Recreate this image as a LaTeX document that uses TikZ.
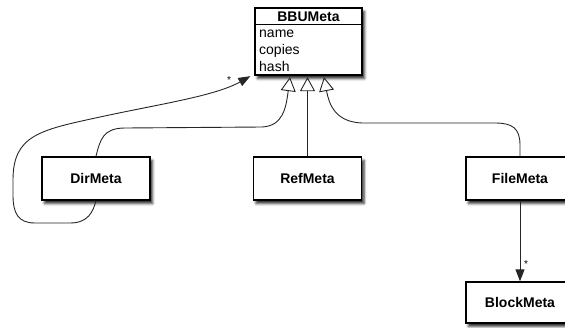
\documentclass[tikz,border=0pt]{standalone}
\usepackage{fontspec}
\setmainfont{Liberation Sans}
\usetikzlibrary{arrows.meta,shadows.blur}
\tikzset{
  cls/.style={draw=black, line width=1.3pt, fill=white, minimum width=108pt,
    minimum height=43pt, inner sep=0pt, font=\fontsize{14}{16}\selectfont\bfseries,
    blur shadow={shadow xshift=2.5pt, shadow yshift=-3.5pt, shadow blur radius=2.5pt, shadow opacity=85}},
  attr/.style={anchor=base west, inner sep=0pt, font=\fontsize{14}{16}\selectfont},
  conn/.style={draw=black!85, line width=0.9pt},
  inherit/.style={conn, -{Triangle[open, width=15pt, length=14pt, line width=0.9pt]}},
  assoc/.style={conn, -{Triangle[width=9pt, length=12pt]}},
  mult/.style={inner sep=0pt, font=\fontsize{10}{10}\selectfont},
}
\begin{document}
\begin{tikzpicture}[x={(1pt,0)}, y={(0,-1pt)}]
\useasboundingbox (0,0) rectangle (565,327);
\clip (0,0) rectangle (565,327);

% base class with its attribute compartment
\node[cls, minimum width=107pt, minimum height=67pt] (bbu) at (308.5,41.5) {};
\path (bbu.north west) ++(0,17) coordinate (sepL);
\draw[line width=1pt] (sepL) -- (sepL -| bbu.east);
\node[inner sep=0pt, anchor=base, font=\fontsize{14}{16}\selectfont\bfseries] (bbutitle) at (308.5,21) {BBUMeta};
\node[attr] (aname) at (259,37) {name};
\node[attr] (acopies) at (259,54) {copies};
\node[attr] (ahash) at (259,71) {hash};

% subclasses
\node[cls] (dir) at (96,178.5) {DirMeta};
\node[cls] (ref) at (307.5,178.5) {RefMeta};
\node[cls] (file) at (520,178.5) {FileMeta};
\node[cls, minimum height=41pt] (block) at (520,302.5) {BlockMeta};

% arrow targets on the base class
\coordinate (tipL) at ([xshift=-18.5pt, yshift=-1.5pt]bbu.south);
\coordinate (tipM) at ([xshift=-1pt, yshift=-1.5pt]bbu.south);
\coordinate (tipR) at ([xshift=15.5pt, yshift=-1.5pt]bbu.south);
\coordinate (tipA) at ([xshift=-4pt, yshift=-0.5pt]bbu.south west);

% generalisations
\draw[inherit] (dir.north) .. controls (100,140) and (103,128) .. (125,128)
  -- (262,127) .. controls (283,126) and (286,108) .. (tipL);
\draw[inherit] (ref.north) -- (tipM);
\draw[inherit] (file.north) -- (520,145) .. controls (520,128) and (512,123) .. (495,123)
  -- (362,123) .. controls (335,122) and (329,104) .. (tipR);

% associations
\draw[assoc] (dir.south) .. controls (93,212) and (88,223) .. (70,223)
  -- (35,223) .. controls (18,223) and (13,213) .. (13,195)
  -- (13,180) .. controls (13,135) and (40,130) .. (100,117)
  .. controls (160,104) and (215,96) .. (tipA);
\node[mult] (m1) at (229,80) {*};
\draw[assoc] (file.south) -- (block.north);
\node[mult] (m2) at (526,264) {*};
\end{tikzpicture}
\end{document}
